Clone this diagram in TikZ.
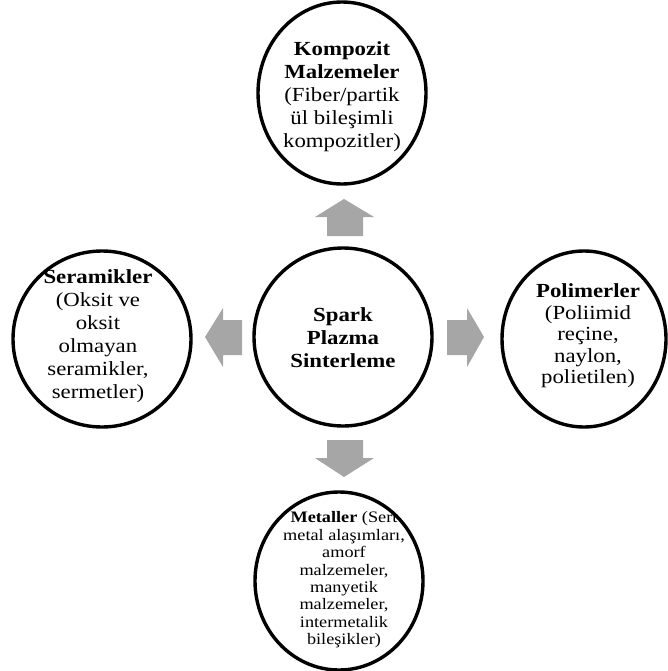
\documentclass[tikz,border=0pt]{standalone}
\usepackage{fontspec}
\setmainfont{Liberation Serif}[FakeStretch=1.14]
\usetikzlibrary{shapes.geometric}
\definecolor{arrowgray}{HTML}{A6A6A6}
\tikzset{
  bubble/.style={ellipse, draw=black, line width=3.4pt, fill=white, inner sep=0pt},
  bubbletext/.style={align=center, font=\fontsize{20}{23}\selectfont, inner sep=0pt},
  smalltext/.style={align=center, font=\fontsize{16}{17.4}\selectfont, inner sep=0pt},
  blockarrow/.style={fill=arrowgray, draw=none}
}
\begin{document}
\begin{tikzpicture}[x=1pt, y=-1pt]
\useasboundingbox (0,0) rectangle (668,671);
% circles
\node[bubble, minimum width=168pt, minimum height=182pt] (top) at (342,93) {};
\node[bubble, minimum width=178pt, minimum height=178pt] (center) at (343,337) {};
\node[bubble, minimum width=178pt, minimum height=176pt] (left) at (102,339) {};
\node[bubble, minimum width=164pt, minimum height=176pt] (right) at (584,339) {};
\node[bubble, minimum width=168pt, minimum height=178pt] (bottom) at (339,581) {};
% texts
\node[bubbletext] (toptext) at (342,97) {\textbf{Kompozit}\\\textbf{Malzemeler}\\(Fiber/partik\\ül bileşimli\\kompozitler)};
\node[bubbletext] (centertext) at (343,338) {\textbf{Spark}\\\textbf{Plazma}\\\textbf{Sinterleme}};
\node[bubbletext] (lefttext) at (98,336) {\textbf{Seramikler}\\(Oksit ve\\oksit\\olmayan\\seramikler,\\sermetler)};
\node[bubbletext, font=\fontsize{20}{21.5}\selectfont] (righttext) at (588,336) {\textbf{Polimerler}\\(Poliimid\\reçine,\\naylon,\\polietilen)};
\node[smalltext] (bottomtext) at (344,580) {\textbf{Metaller} (Sert\\metal alaşımları,\\amorf\\malzemeler,\\manyetik\\malzemeler,\\intermetalik\\bileşikler)};
% block arrows
\fill[blockarrow] (344,199) -- (374,217) -- (363,217) -- (363,236) -- (327,236) -- (327,217) -- (315,217) -- cycle;
\fill[blockarrow] (344,477) -- (374,458) -- (363,458) -- (363,440) -- (327,440) -- (327,458) -- (315,458) -- cycle;
\fill[blockarrow] (205,337) -- (223,308) -- (223,320) -- (242,320) -- (242,355) -- (223,355) -- (223,367) -- cycle;
\fill[blockarrow] (484,337) -- (467,308) -- (467,320) -- (447,320) -- (447,355) -- (467,355) -- (467,367) -- cycle;
\end{tikzpicture}
\end{document}
